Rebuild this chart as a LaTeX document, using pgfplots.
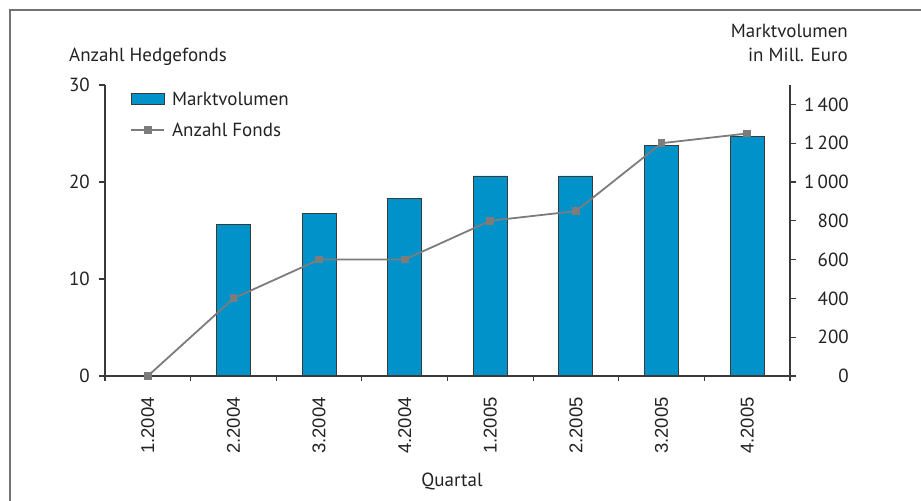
\documentclass[border=0pt]{standalone}
\usepackage{fontspec}
\setmainfont{PT Sans}
\newfontfamily\arialfont{Liberation Sans}
\usepackage{pgfplots}
\pgfplotsset{compat=1.18}
\definecolor{barblue}{HTML}{0092C9}
\definecolor{linegray}{HTML}{7C7C7C}
\definecolor{axisgray}{HTML}{3A3A3A}
\definecolor{txt}{HTML}{222222}
\begin{document}
\begin{tikzpicture}[x=1bp,y=1bp]
\useasboundingbox (0,0) rectangle (921,501);
\draw[black!55, line width=1.6bp] (10,-10) -- (10,491) -- (930,491);
\begin{axis}[
  scale only axis, width=685bp, height=291bp,
  at={(105bp,125bp)}, anchor=south west,
  xmin=-0.5, xmax=7.5, ymin=0, ymax=1500,
  axis x line=none,
  axis y line*=right,
  axis line style={axisgray, line width=1.1bp},
  ytick={0,200,...,1400},
  tick align=outside, major tick length=6bp,
  tick style={axisgray, line width=1.1bp},
  /pgf/number format/assume math mode=true,
  /pgf/number format/1000 sep={\,},
  yticklabel style={font=\fontsize{19bp}{22bp}\selectfont, text=txt, inner sep=0pt, anchor=east, xshift=53bp},
  clip=false,
]
\addplot[ybar, bar width=34bp, fill=barblue, draw=axisgray, line width=0.9bp]
  coordinates {(1,780)(2,837)(3,913)(4,1031)(5,1031)(6,1188)(7,1235)};
\end{axis}
\begin{axis}[
  scale only axis, width=685bp, height=291bp,
  at={(105bp,125bp)}, anchor=south west,
  xmin=-0.5, xmax=7.5, ymin=0, ymax=30,
  axis x line*=bottom,
  axis y line*=left,
  axis line style={axisgray, line width=1.1bp},
  ytick={0,10,20,30},
  xtick={0,...,7},
  xticklabels={1.2004,2.2004,3.2004,4.2004,1.2005,2.2005,3.2005,4.2005},
  major x tick style={draw=none},
  minor xtick={-0.5,0.5,...,7.5},
  minor tick length=5bp,
  minor x tick style={axisgray, line width=1.1bp},
  tick align=outside, major tick length=6bp,
  tick style={axisgray, line width=1.1bp},
  /pgf/number format/assume math mode=true,
  yticklabel style={font=\fontsize{19bp}{22bp}\selectfont, text=txt, inner sep=0pt, xshift=-9bp},
  xticklabel style={font=\arialfont\fontsize{18.5bp}{22bp}\selectfont, text=txt, rotate=90, anchor=east, inner sep=0pt, xshift=-15bp},
  legend style={draw=none, fill=none, inner sep=0pt, at={(0.0365,0.98)}, anchor=north west,
    font=\fontsize{19bp}{22bp}\selectfont, text=txt, row sep=14bp,
    nodes={inner sep=1bp},
    /tikz/every odd column/.append style={column sep=6bp}},
  legend cell align=left,
  clip=false,
]
\addlegendimage{legend image code/.code={\draw[fill=barblue, draw=axisgray, line width=0.9bp] (0bp,-5.5bp) rectangle (33bp,5.5bp);}}
\addlegendentry{Marktvolumen}
\addplot[linegray, line width=1.8bp, mark=square*, mark size=3bp, mark options={fill=linegray, draw=linegray},
  legend image code/.code={\draw[linegray, line width=1.8bp] (0bp,0bp) -- (33bp,0bp); \fill[linegray] (13.5bp,-3bp) rectangle (19.5bp,3bp);}]
  coordinates {(0,0)(1,8)(2,12)(3,12)(4,16)(5,17)(6,24)(7,25)};
\addlegendentry{Anzahl Fonds}
\end{axis}
\node[anchor=base west, text=txt, font=\fontsize{19bp}{22bp}\selectfont, inner sep=0pt] at (69,439) {Anzahl Hedgefonds};
\node[anchor=base east, text=txt, font=\fontsize{19bp}{22bp}\selectfont, inner sep=0pt] at (848,463) {Marktvolumen};
\node[anchor=base east, text=txt, font=\fontsize{19bp}{22bp}\selectfont, inner sep=0pt] at (848,439) {in Mill. Euro};
\node[anchor=base, text=txt, font=\fontsize{19bp}{22bp}\selectfont, inner sep=0pt] at (452,14) {Quartal};
\end{tikzpicture}
\end{document}
